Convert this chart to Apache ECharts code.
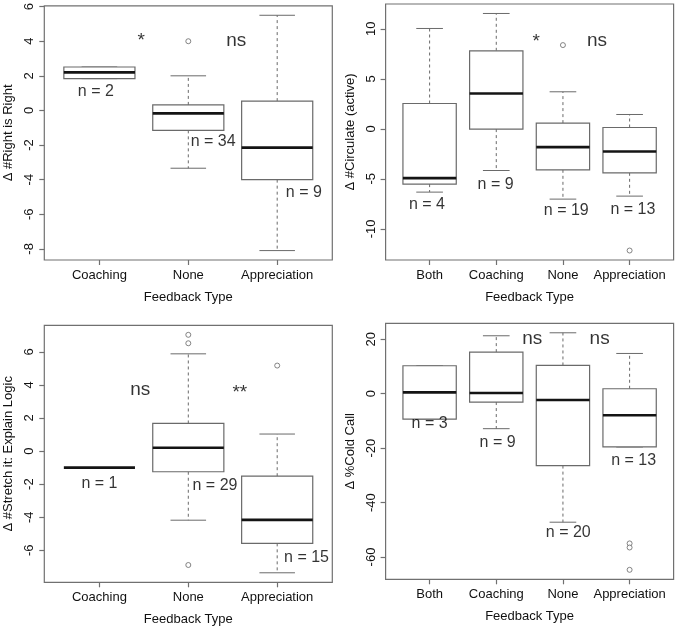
<!DOCTYPE html>
<html>
<head>
<meta charset="utf-8">
<script src="https://cdn.jsdelivr.net/npm/echarts@6/dist/echarts.min.js"></script>
<style>
html,body{margin:0;padding:0;background:#fff;}
#chart{width:678px;height:629px;}
</style>
</head>
<body>
<div id="chart"></div>
<script>
// ---------- DATA ----------
// Box stats per category: [min whisker, Q1, median, Q3, max whisker]
const p1Categories = ['Coaching', 'None', 'Appreciation'];
const p1Boxes = [
  [1.84, 1.84, 2.2, 2.51, 2.51],
  [-3.34, -1.15, -0.17, 0.32, 2.0],
  [-8.1, -4.0, -2.15, 0.54, 5.5]
];
const p1Outliers = [[2, 4.0]];
const p1YTicks = [-8, -6, -4, -2, 0, 2, 4, 6];
const p1NLabels = [[0.96, 1.1, 'n = 2'], [2.28, -1.8, 'n = 34'], [3.3, -4.75, 'n = 9']];
const p1Sig = [[1.47, 4.0, '*'], [2.54, 4.0, 'ns']];
const p1YTitle = 'Δ #Right is Right';

const p2Categories = ['Both', 'Coaching', 'None', 'Appreciation'];
const p2Boxes = [
  [-6.33, -5.53, -4.93, 2.53, 10.03],
  [-4.17, -0.03, 3.53, 7.8, 11.53],
  [-7.03, -4.1, -1.83, 0.57, 3.7],
  [-6.73, -4.4, -2.27, 0.13, 1.43]
];
const p2Outliers = [[3, 8.37], [4, -12.17]];
const p2YTicks = [-10, -5, 0, 5, 10];
const p2NLabels = [[0.96, -7.55, 'n = 4'], [1.99, -5.55, 'n = 9'], [3.05, -8.2, 'n = 19'], [4.05, -8.1, 'n = 13']];
const p2Sig = [[2.6, 8.7, '*'], [3.51, 8.85, 'ns']];
const p2YTitle = 'Δ #Circulate (active)';

const p3Categories = ['Coaching', 'None', 'Appreciation'];
const p3Boxes = [
  [-1.0, -1.0, -1.0, -1.0, -1.0],
  [-4.18, -1.25, 0.2, 1.67, 5.88],
  [-7.36, -5.58, -4.16, -1.52, 1.03]
];
const p3Outliers = [[2, 7.03], [2, 6.52], [2, -6.89], [3, 5.17]];
const p3YTicks = [-6, -4, -2, 0, 2, 4, 6];
const p3NLabels = [[1.0, -1.95, 'n = 1'], [2.3, -2.08, 'n = 29'], [3.33, -6.43, 'n = 15']];
const p3Sig = [[1.46, 3.72, 'ns'], [2.58, 3.5, '**']];
const p3YTitle = 'Δ #Stretch it: Explain Logic';

const p4Categories = ['Both', 'Coaching', 'None', 'Appreciation'];
const p4Boxes = [
  [-9.3, -9.3, 0.5, 10.28, 10.28],
  [-12.84, -3.05, 0.26, 15.3, 21.3],
  [-47.2, -26.4, -2.3, 10.4, 22.4],
  [-19.56, -19.56, -7.9, 1.83, 14.8]
];
const p4Outliers = [[4, -55.0], [4, -56.5], [4, -64.7]];
const p4YTicks = [-60, -40, -20, 0, 20];
const p4NLabels = [[1.0, -10.9, 'n = 3'], [2.02, -17.8, 'n = 9'], [3.08, -51.0, 'n = 20'], [4.06, -24.6, 'n = 13']];
const p4Sig = [[2.54, 20.3, 'ns'], [3.55, 20.3, 'ns']];
const p4YTitle = 'Δ %Cold Call';

const xTitle = 'Feedback Type';

// ---------- CHART ----------
const FONT = '"Liberation Sans", Arial, Helvetica, sans-serif';
const FRAME = '#707070';
const BOXC = '#6a6a6a';

const panels = [
  {cats: p1Categories, boxes: p1Boxes, out: p1Outliers, ticks: p1YTicks, n: p1NLabels, sig: p1Sig, title: p1YTitle,
   grid: {left: 44.3, top: 4, width: 288, height: 256}},
  {cats: p2Categories, boxes: p2Boxes, out: p2Outliers, ticks: p2YTicks, n: p2NLabels, sig: p2Sig, title: p2YTitle,
   grid: {left: 385.6, top: 4, width: 288, height: 256}},
  {cats: p3Categories, boxes: p3Boxes, out: p3Outliers, ticks: p3YTicks, n: p3NLabels, sig: p3Sig, title: p3YTitle,
   grid: {left: 44.3, top: 325.3, width: 288, height: 257}},
  {cats: p4Categories, boxes: p4Boxes, out: p4Outliers, ticks: p4YTicks, n: p4NLabels, sig: p4Sig, title: p4YTitle,
   grid: {left: 385.6, top: 323.3, width: 288, height: 256}}
];

function renderBox(params, api) {
  const x = api.value(0), lo = api.value(1), q1 = api.value(2), med = api.value(3), q3 = api.value(4), hi = api.value(5);
  const bl = api.coord([x - 0.4, q3]);
  const br = api.coord([x + 0.4, q1]);
  const ctop = api.coord([x, hi]);
  const cq3 = api.coord([x, q3]);
  const cq1 = api.coord([x, q1]);
  const cbot = api.coord([x, lo]);
  const capL = api.coord([x - 0.2, hi])[0];
  const capR = api.coord([x + 0.2, hi])[0];
  const mL = api.coord([x - 0.4, med]);
  const mR = api.coord([x + 0.4, med]);
  const dash = {stroke: BOXC, lineWidth: 1, lineDash: [3, 3]};
  const solid = {stroke: BOXC, lineWidth: 1};
  const children = [];
  if (hi > q3) children.push({type: 'line', shape: {x1: ctop[0], y1: cq3[1], x2: ctop[0], y2: ctop[1]}, style: dash});
  if (lo < q1) children.push({type: 'line', shape: {x1: cbot[0], y1: cq1[1], x2: cbot[0], y2: cbot[1]}, style: dash});
  children.push({type: 'line', shape: {x1: capL, y1: ctop[1], x2: capR, y2: ctop[1]}, style: solid});
  children.push({type: 'line', shape: {x1: capL, y1: cbot[1], x2: capR, y2: cbot[1]}, style: solid});
  if (q3 > q1) children.push({type: 'rect', shape: {x: bl[0], y: bl[1], width: br[0] - bl[0], height: br[1] - bl[1]},
     style: {fill: '#fff', stroke: BOXC, lineWidth: 1.2}});
  children.push({type: 'line', shape: {x1: mL[0], y1: mL[1], x2: mR[0], y2: mR[1]}, style: {stroke: '#141414', lineWidth: 2.6}});
  return {type: 'group', children: children};
}

const option = {
  backgroundColor: '#fff',
  animation: false,
  grid: [], xAxis: [], yAxis: [], series: []
};

panels.forEach((p, i) => {
  const nc = p.cats.length;
  const allVals = [];
  p.boxes.forEach(b => b.forEach(v => allVals.push(v)));
  p.out.forEach(o => allVals.push(o[1]));
  const dmin = Math.min(...allVals), dmax = Math.max(...allVals);
  const pad = (dmax - dmin) * 0.04;
  option.grid.push(Object.assign({show: true, borderColor: FRAME, borderWidth: 1.2, backgroundColor: 'transparent'}, p.grid));
  const catPos = p.cats.map((c, k) => k + 1);
  option.xAxis.push({
    type: 'value', gridIndex: i, position: 'bottom',
    min: 0.5 - 0.04 * nc, max: nc + 0.5 + 0.04 * nc,
    axisLine: {show: false, onZero: false},
    splitLine: {show: false},
    axisTick: {show: true, customValues: catPos, length: 5, lineStyle: {color: FRAME, width: 1.2}},
    axisLabel: {show: true, customValues: catPos, margin: 9, fontFamily: FONT, fontSize: 13, color: '#111',
      formatter: v => p.cats[Math.round(v) - 1] || ''},
    name: xTitle, nameLocation: 'middle', nameGap: 31,
    nameTextStyle: {fontFamily: FONT, fontSize: 13, color: '#111'}
  });
  option.yAxis.push({
    type: 'value', gridIndex: i, position: 'left',
    min: dmin - pad, max: dmax + pad,
    axisLine: {show: false, onZero: false},
    splitLine: {show: false},
    axisTick: {show: true, customValues: p.ticks, length: 5, lineStyle: {color: FRAME, width: 1.2}},
    axisLabel: {show: true, customValues: p.ticks, rotate: 90, margin: 8, align: 'center', verticalAlign: 'bottom',
      fontFamily: FONT, fontSize: 13, color: '#111'},
    name: p.title, nameLocation: 'middle', nameRotate: 90, nameGap: 29,
    nameTextStyle: {fontFamily: FONT, fontSize: 13, color: '#111'}
  });
  option.series.push({
    type: 'custom', xAxisIndex: i, yAxisIndex: i,
    renderItem: renderBox,
    encode: {x: 0, y: [1, 2, 3, 4, 5]},
    data: p.boxes.map((b, k) => [k + 1].concat(b)),
    clip: false, z: 2
  });
  option.series.push({
    type: 'scatter', xAxisIndex: i, yAxisIndex: i,
    symbol: 'circle', symbolSize: 5,
    itemStyle: {color: '#fff', borderColor: '#666', borderWidth: 1},
    data: p.out, z: 3
  });
  option.series.push({
    type: 'scatter', xAxisIndex: i, yAxisIndex: i,
    symbolSize: 0, silent: true,
    label: {show: true, position: 'inside', formatter: d => d.value[2],
      fontFamily: FONT, fontSize: 16, color: '#000'},
    data: p.n, z: 4
  });
  option.series.push({
    type: 'scatter', xAxisIndex: i, yAxisIndex: i,
    symbolSize: 0, silent: true,
    label: {show: true, position: 'inside', formatter: d => d.value[2],
      fontFamily: FONT, fontSize: 19, color: '#000'},
    data: p.sig, z: 4
  });
});

const chart = echarts.init(document.getElementById('chart'), null, {renderer: 'canvas'});
chart.setOption(option);
</script>
</body>
</html>
